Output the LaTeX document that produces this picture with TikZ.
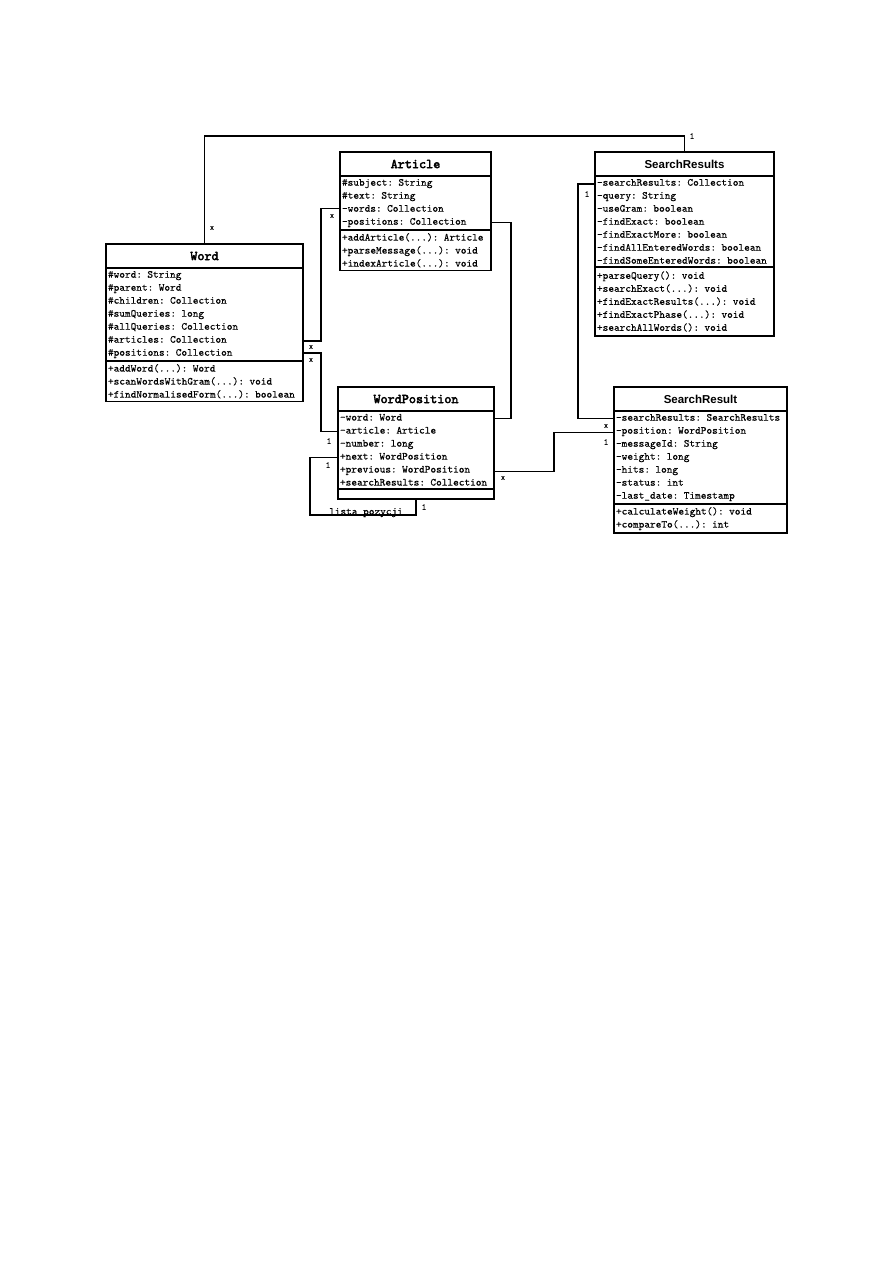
\documentclass[tikz,border=0pt]{standalone}
\usepackage{fontspec}
\setsansfont{Liberation Sans}
\setmonofont[FakeBold=0.2]{lmmono10-regular.otf}
\newfontfamily\headmono[FakeBold=3]{lmmono10-regular.otf}
\usepackage{tikz}
\usetikzlibrary{positioning}

\begin{document}
\begin{tikzpicture}[x=1pt, y=-1pt]
        % Define class box styles
        \tikzstyle{head} = [rectangle, draw, line width=1.6pt, outer sep=0pt, inner sep=0pt,
                            minimum height=24pt, font=\fontsize{13.5}{14}\selectfont\headmono]
        \tikzstyle{shead} = [head, font=\fontsize{11.5}{14}\selectfont\sffamily\bfseries]
        \tikzstyle{part} = [rectangle, draw, line width=1.6pt, outer sep=0pt, inner xsep=2pt, inner ysep=3pt,
                            align=left, font=\fontsize{10.8}{13}\selectfont\ttfamily]
        \tikzstyle{assoc} = [line width=1.6pt]
        \tikzstyle{mult} = [inner sep=0pt, font=\fontsize{9}{10}\selectfont\ttfamily]
        \tikzstyle{many} = [inner sep=0pt, font=\fontsize{7.5}{8}\selectfont\ttfamily]

        \useasboundingbox (0,0) rectangle (893,1263);

        % Word
        \node (wordTitle) [head, anchor=north west, minimum width=197pt] at (106,244) {Word};
        \node (wordAttr) [part, text width=193pt, below=0pt of wordTitle] {\#word: String\\\#parent: Word\\\#children: Collection\\\#sumQueries: long\\\#allQueries: Collection\\\#articles: Collection\\\#positions: Collection};
        \node (wordOps) [part, text width=193pt, below=0pt of wordAttr] {+addWord(...): Word\\+scanWordsWithGram(...): void\\+findNormalisedForm(...): boolean};

        % Article
        \node (artTitle) [head, anchor=north west, minimum width=151pt] at (340,152) {Article};
        \node (artAttr) [part, text width=147pt, below=0pt of artTitle] {\#subject: String\\\#text: String\\-words: Collection\\-positions: Collection};
        \node (artOps) [part, text width=147pt, below=0pt of artAttr] {+addArticle(...): Article\\+parseMessage(...): void\\+indexArticle(...): void};

        % SearchResults
        \node (srsTitle) [shead, anchor=north west, minimum width=179pt] at (595,152) {SearchResults};
        \node (srsAttr) [part, text width=175pt, below=0pt of srsTitle] {-searchResults: Collection\\-query: String\\-useGram: boolean\\-findExact: boolean\\-findExactMore: boolean\\-findAllEnteredWords: boolean\\-findSomeEnteredWords: boolean};
        \node (srsOps) [part, text width=175pt, inner ysep=4.5pt, below=0pt of srsAttr] {+parseQuery(): void\\+searchExact(...): void\\+findExactResults(...): void\\+findExactPhase(...): void\\+searchAllWords(): void};

        % WordPosition
        \node (wpTitle) [head, anchor=north west, minimum width=156pt] at (338,387) {WordPosition};
        \node (wpAttr) [part, text width=152pt, below=0pt of wpTitle] {-word: Word\\-article: Article\\-number: long\\+next: WordPosition\\+previous: WordPosition\\+searchResults: Collection};
        \node (wpOps) [part, text width=152pt, minimum height=10pt, inner ysep=0pt, below=0pt of wpAttr] {};

        % SearchResult
        \node (srTitle) [shead, anchor=north west, minimum width=173pt] at (614,387) {SearchResult};
        \node (srAttr) [part, text width=169pt, below=0pt of srTitle] {-searchResults: SearchResults\\-position: WordPosition\\-messageId: String\\-weight: long\\-hits: long\\-status: int\\-last\_date: Timestamp};
        \node (srOps) [part, text width=169pt, below=0pt of srAttr] {+calculateWeight(): void\\+compareTo(...): int};

        % Associations
        \draw [assoc] (wordTitle.north) |- ([yshift=16pt]srsTitle.north) -- (srsTitle.north);
        \draw [assoc] ([yshift=20pt]wordAttr.south east) -| ([xshift=-19pt,yshift=-5.5pt]artAttr.west) -- ([yshift=-5.5pt]artAttr.west);
        \draw [assoc] ([yshift=8pt]wordAttr.south east) -| ([xshift=-17pt,yshift=18.5pt]wpAttr.west) -- ([yshift=18.5pt]wpAttr.west);
        \draw [assoc] ([yshift=-19.5pt]artAttr.east) -| ([xshift=17pt,yshift=31.5pt]wpAttr.east) -- ([yshift=31.5pt]wpAttr.east);
        \draw [assoc] ([yshift=-7.5pt]wpAttr.west) -- ++(-28,0) |- ([yshift=-16pt]wpOps.south) -- (wpOps.south);
        \draw [assoc] ([yshift=-21.5pt]wpAttr.east) -| ([xshift=-60pt,yshift=25pt]srAttr.west) -- ([yshift=25pt]srAttr.west);
        \draw [assoc] ([yshift=37.5pt]srsAttr.west) -| ([xshift=-36pt,yshift=39pt]srAttr.west) -- ([yshift=39pt]srAttr.west);

        % Multiplicities
        \node (m1) [many] at (212,228) {x};
        \node (m2) [mult] at (692,136) {1};
        \node (m3) [many] at (332,216) {x};
        \node (m4) [many] at (311,347) {x};
        \node (m5) [many] at (311,360) {x};
        \node (m6) [mult] at (329,441) {1};
        \node (m7) [mult] at (328,465) {1};
        \node (m8) [mult] at (424,507) {1};
        \node (m9) [many] at (503,478) {x};
        \node (m10) [many] at (606,426) {x};
        \node (m11) [mult] at (606,442) {1};
        \node (m12) [mult] at (587,194) {1};
        \node (loop) [part, draw=none, inner sep=0pt, anchor=base] at ([xshift=-50pt,yshift=-16pt]wpOps.south) {lista pozycji};
    \end{tikzpicture}
\end{document}
